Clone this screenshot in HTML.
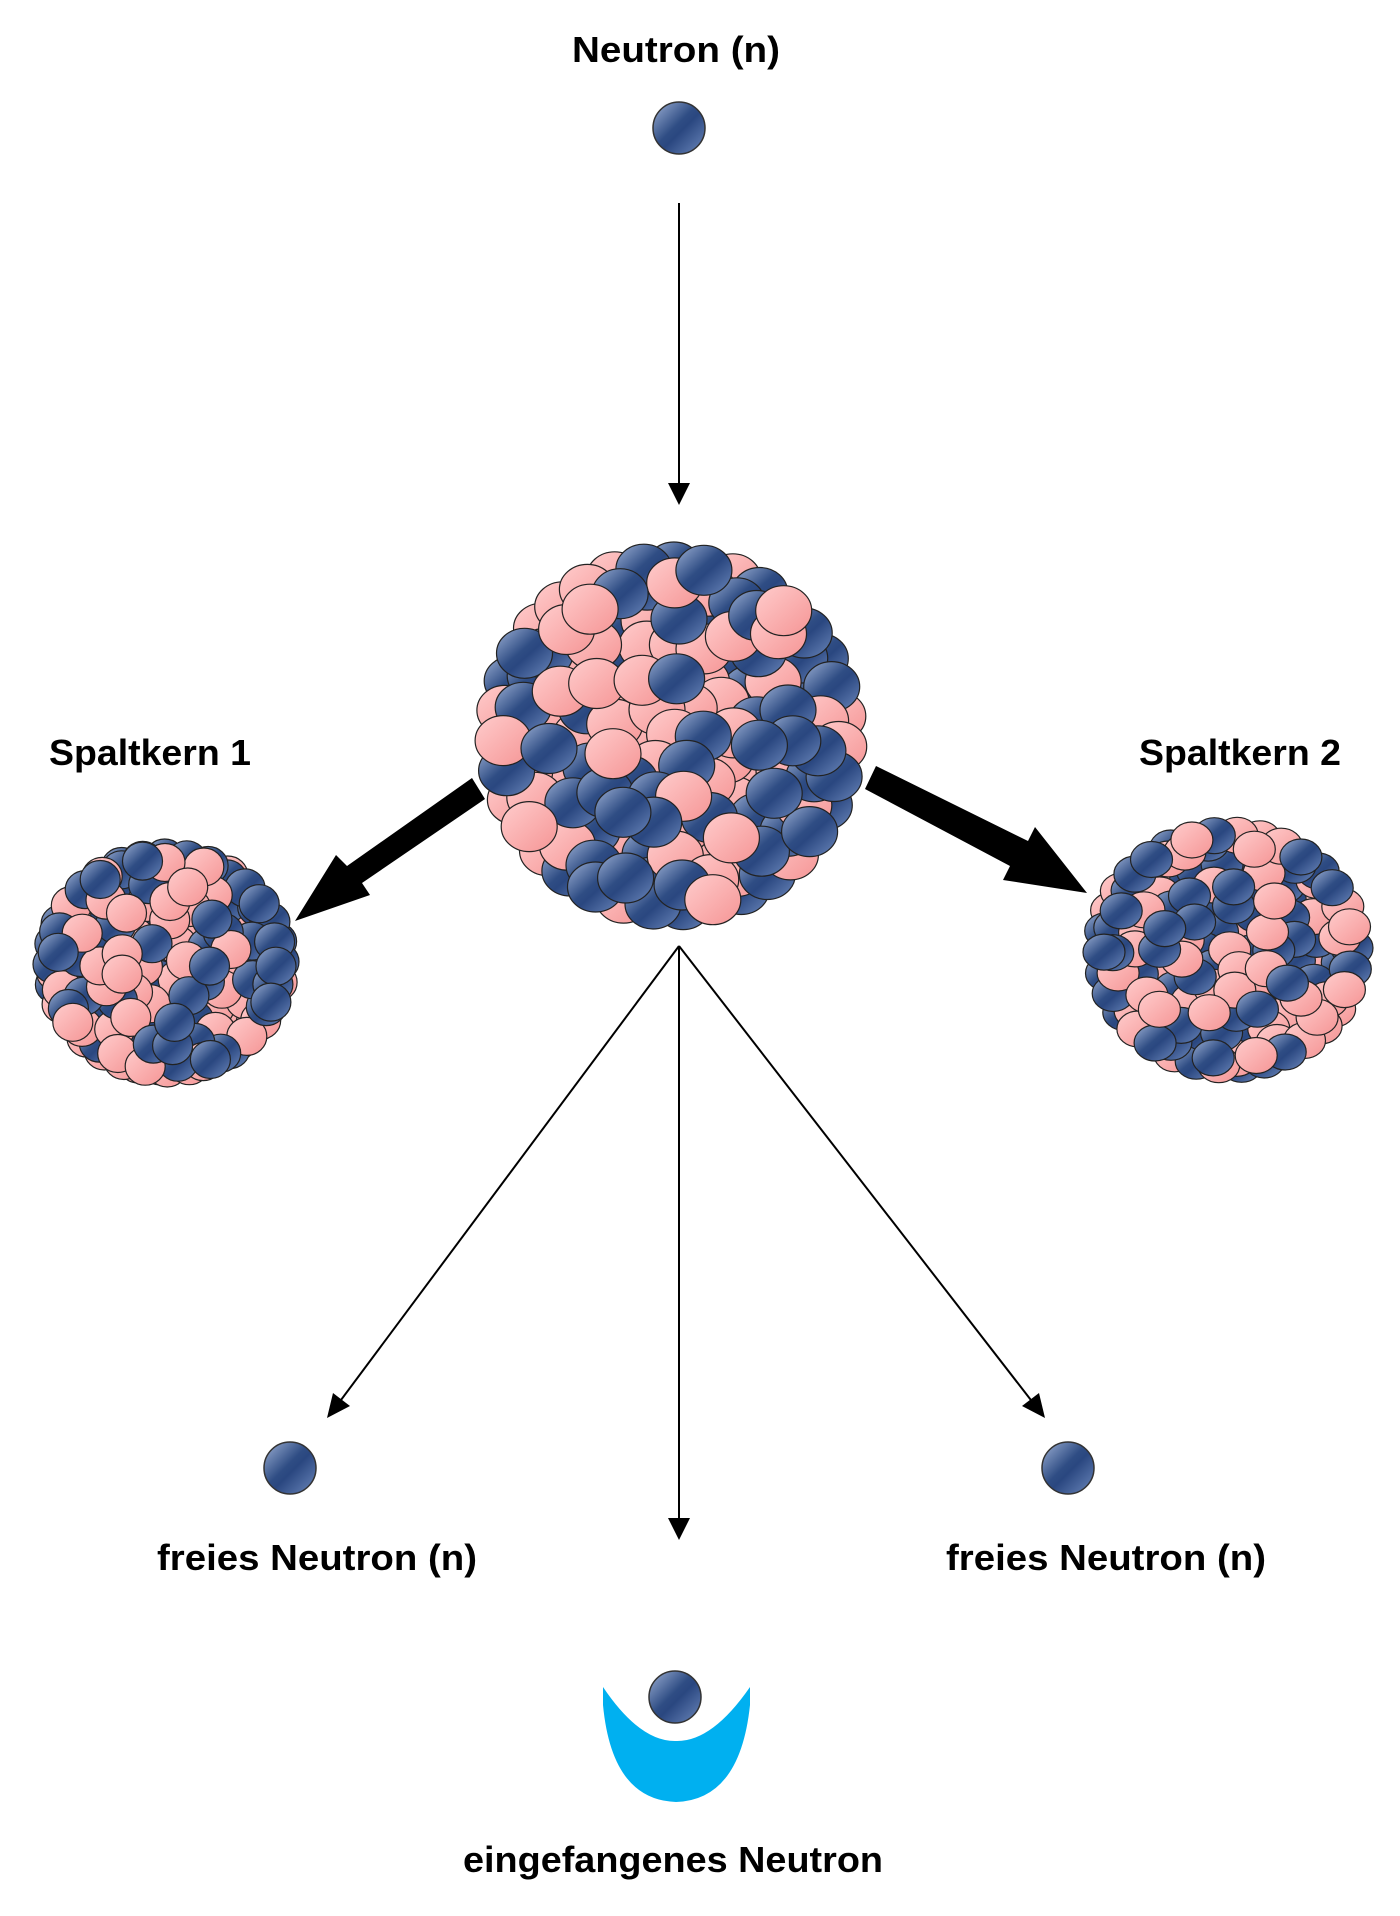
<!DOCTYPE html>
<html><head><meta charset="utf-8">
<style>
html,body{margin:0;padding:0;background:#fff;}
svg{display:block;}
text{font-family:"Liberation Sans",sans-serif;font-weight:bold;fill:#000;}
</style></head>
<body>
<svg id="s" width="1400" height="1916" viewBox="0 0 1400 1916" xmlns="http://www.w3.org/2000/svg">
<defs>
<linearGradient id="gb" x1="0" y1="0" x2="1" y2="1">
<stop offset="0" stop-color="#9fb2d6"/><stop offset="0.45" stop-color="#2f4d84"/><stop offset="0.55" stop-color="#2a4780"/><stop offset="1" stop-color="#6c88bc"/>
</linearGradient>
<linearGradient id="gp" x1="0" y1="0" x2="1" y2="1">
<stop offset="0" stop-color="#ffcccc"/><stop offset="1" stop-color="#f59595"/>
</linearGradient>
</defs>
<text x="676" y="62" font-size="36" text-anchor="middle" textLength="208" lengthAdjust="spacingAndGlyphs">Neutron (n)</text>
<text x="150" y="765" font-size="36" text-anchor="middle" textLength="202" lengthAdjust="spacingAndGlyphs">Spaltkern 1</text>
<text x="1240" y="765" font-size="36" text-anchor="middle" textLength="202" lengthAdjust="spacingAndGlyphs">Spaltkern 2</text>
<text x="317" y="1570" font-size="36" text-anchor="middle" textLength="320" lengthAdjust="spacingAndGlyphs">freies Neutron (n)</text>
<text x="1106" y="1570" font-size="36" text-anchor="middle" textLength="320" lengthAdjust="spacingAndGlyphs">freies Neutron (n)</text>
<text x="673" y="1872" font-size="36" text-anchor="middle" textLength="420" lengthAdjust="spacingAndGlyphs">eingefangenes Neutron</text>

<g stroke="#000" stroke-width="2" fill="none">
<line x1="679" y1="203" x2="679" y2="490"/>
<line x1="679" y1="946" x2="679" y2="1525"/>
<line x1="679" y1="946" x2="338" y2="1404"/>
<line x1="679" y1="946" x2="1034" y2="1404"/>
</g>
<g fill="#000">
<polygon points="679,505 668,483 690,483"/>
<polygon points="679,1540 668,1518 690,1518"/>
<polygon points="327,1418 333,1393 350,1406"/>
<polygon points="1045,1418 1022,1406 1039,1393"/>
</g>
<g id="nuc"></g>
<g fill="#000">
<polygon points="472,778 485,799 362,883 370,895 295,921 336,855 347,866"/>
<polygon points="876,766 865,789 1010,866 1003,880 1087,893 1035,827 1028,841"/>
</g>
<g stroke="#333" stroke-width="1.5" fill="url(#gb)">
<circle cx="679" cy="128" r="26"/>
<circle cx="290" cy="1468" r="26"/>
<circle cx="1068" cy="1468" r="26"/>
</g>
<path d="M603,1687 Q640,1742 676,1741 Q712,1742 750,1687 L750,1705 Q740,1800 676,1802 Q612,1800 603,1705 Z" fill="#00b0f0"/>
<circle cx="675" cy="1697" r="26" stroke="#333" stroke-width="1.5" fill="url(#gb)"/>
</svg>
<script>
(function(){
var seed=4242;function rnd(){seed=(seed*16807)%2147483647;return (seed-1)/2147483646;}
var g=document.getElementById('nuc');var ns="http://www.w3.org/2000/svg";
function nucleus(cx,cy,Rx,Ry,rx,ry,step){
 var pts=[];var Rmax=Math.max(Rx-rx,Ry-ry);var K=Math.ceil(Rmax/step);
 for(var k=0;k<=K;k++){
  var rad=Math.min(k*step,Rmax);var n=k==0?1:Math.round(2*Math.PI*rad/step);
  var off=rnd()*6.283;
  for(var i=0;i<n;i++){
   var a=off+i*6.283/n;var j=(k==K)?0:step*0.25;
   var px=Math.cos(a)*rad*(Rx-rx)/Rmax+(rnd()-0.5)*j, py=Math.sin(a)*rad*(Ry-ry)/Rmax+(rnd()-0.5)*j;
   pts.push([px,py,rnd()]);
  }
 }
 pts.sort(function(a,b){return a[2]-b[2];});
 pts.forEach(function(p){
  var e=document.createElementNS(ns,'ellipse');
  e.setAttribute('cx',(cx+p[0]).toFixed(1));e.setAttribute('cy',(cy+p[1]).toFixed(1));
  e.setAttribute('rx',rx);e.setAttribute('ry',ry);
  e.setAttribute('fill',rnd()<0.5?'url(#gb)':'url(#gp)');
  e.setAttribute('stroke','#222');e.setAttribute('stroke-width','1.2');
  g.appendChild(e);
 });
}
nucleus(671,736,196,194,28,25,30);
nucleus(166,963,133,124,20,19,22);
nucleus(1228,950,145,133,21,18,23);
})();
</script>
</body></html>
